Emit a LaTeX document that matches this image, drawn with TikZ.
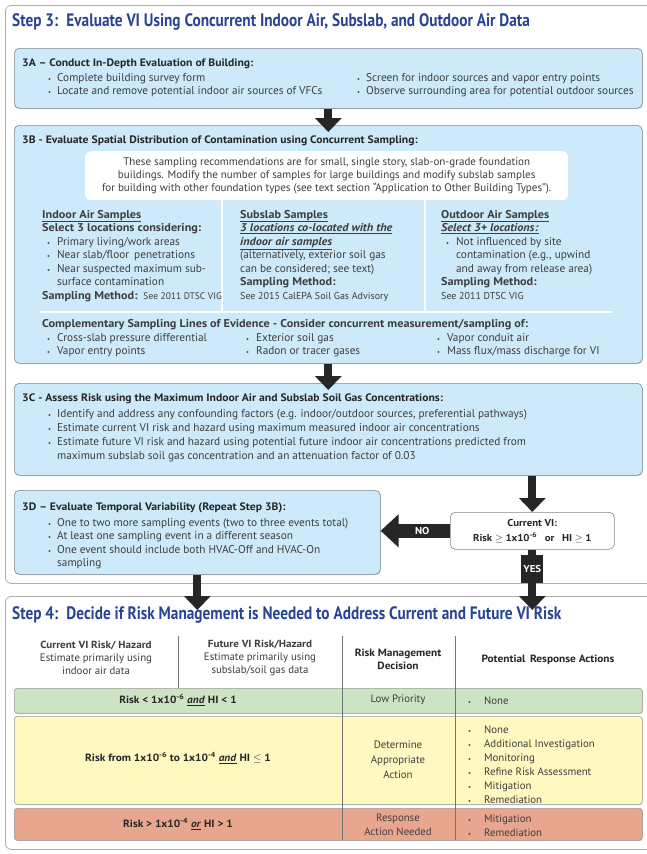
\documentclass[tikz,border=0pt]{standalone}
\usepackage{fontspec}
\setmainfont{PT Sans}[BoldFeatures={FakeStretch=1.08}, BoldItalicFeatures={FakeStretch=1.08}]
\newfontfamily\condfont{PT Sans}[FakeStretch=0.85]
\usetikzlibrary{arrows.meta,shadows}

\definecolor{titleblue}{RGB}{40,68,148}
\definecolor{boxblue}{RGB}{204,234,250}
\definecolor{boxline}{RGB}{125,135,145}
\definecolor{frameline}{RGB}{175,175,175}
\definecolor{txtgray}{RGB}{62,62,62}
\definecolor{rowgreen}{RGB}{205,228,196}
\definecolor{rowyellow}{RGB}{255,248,192}
\definecolor{rowred}{RGB}{232,166,142}

\newcommand{\bul}{{\fontsize{6.5}{6.5}\selectfont\textbullet}}
\newcommand{\uemph}[1]{\underline{\textbf{\textit{#1}}}}

\begin{document}
\begin{tikzpicture}[x=1pt,y=-1pt]
\tikzstyle{every node} = [inner sep=0pt, text=txtgray, font=\fontsize{11.3}{13.5}\selectfont]
\tikzstyle{frame} = [draw=frameline, line width=0.8pt, rounded corners=6pt, fill=white, anchor=north west]
\tikzstyle{panel} = [draw=boxline, fill=boxblue, line width=0.6pt, rounded corners=5pt, anchor=north west,
  drop shadow={shadow xshift=0.5pt, shadow yshift=-0.9pt, opacity=0.35}]
\tikzstyle{steptitle} = [anchor=base west, text=titleblue, font=\condfont\bfseries\fontsize{18}{20}\selectfont]
\tikzstyle{head} = [anchor=base west, text=black!85, font=\bfseries\fontsize{10.8}{13}\selectfont]
\tikzstyle{list} = [anchor=base west, align=left]
\tikzstyle{bigarrow} = [line width=8pt, draw=black!85, -{Triangle[width=26pt,length=14pt]}]
\tikzstyle{flag} = [text=white, font=\bfseries\fontsize{10}{11}\selectfont]
\tikzstyle{row} = [draw=black!40, line width=0.6pt, rounded corners=3pt, anchor=north west, minimum width=628pt,
  drop shadow={shadow xshift=0.5pt, shadow yshift=-0.9pt, opacity=0.3}]
\tikzstyle{divider} = [draw=black!55, line width=0.6pt]
\tikzstyle{cell} = [align=center, font=\fontsize{10.8}{14}\selectfont]
\tikzstyle{cellb} = [align=center, text=black!85, font=\bfseries\fontsize{10.5}{13}\selectfont]

\useasboundingbox (0,0) rectangle (646,854);

% cornice step 3
\node[frame, minimum width=660pt, minimum height=578pt] (s3) at (5,5) {};
\node[steptitle] (s3t) at (12,26) {Step 3:\, Evaluate VI Using Concurrent Indoor Air, Subslab, and Outdoor Air Data};

% 3A
\node[panel, minimum width=628pt, minimum height=60pt] (s3a) at (14,48) {};
\node[head] (s3ah) at (22,66) {3A -- Conduct In-Depth Evaluation of Building:};
\node[list] (s3al) at (48,81) {\begin{tabular}[t]{@{}l@{\hspace{6pt}}l@{}}
  \bul & Complete building survey form\\
  \bul & Locate and remove potential indoor air sources of VFCs
\end{tabular}};
\node[list] (s3ar) at (357,81) {\begin{tabular}[t]{@{}l@{\hspace{6pt}}l@{}}
  \bul & Screen for indoor sources and vapor entry points\\
  \bul & Observe surrounding area for potential outdoor sources
\end{tabular}};

% 3B
\node[panel, minimum width=628pt, minimum height=238pt] (s3b) at (14,125) {};
\node[head] (s3bh) at (22,143) {3B - Evaluate Spatial Distribution of Contamination using Concurrent Sampling:};
\node[fill=white, rounded corners=6pt, minimum width=483pt, minimum height=49pt, anchor=north west] (note) at (85,151) {};
\node[align=center, font=\fontsize{11}{13}\selectfont] (notetxt) at (note.center) {These sampling recommendations are for small, single story, slab-on-grade foundation\\
  buildings. Modify the number of samples for large buildings and modify subslab samples\\
  for building with other foundation types (see text section ``Application to Other Building Types'').};

\draw[white, line width=1.5pt] (222,200) -- (222,312);
\draw[white, line width=1.5pt] (425,200) -- (425,312);
\draw[white, line width=1.5pt] (40,312) -- (612,312);

\node[list] (indoor) at (42,218) {\begin{tabular}[t]{@{}l@{\hspace{7pt}}l@{}}
  \multicolumn{2}{@{}l@{}}{\underline{\textbf{Indoor Air Samples}}}\\
  \multicolumn{2}{@{}l@{}}{\textbf{Select 3 locations considering:}}\\
  \hspace{5pt}\bul & Primary living/work areas\\
  \hspace{5pt}\bul & Near slab/floor\, penetrations\\
  \hspace{5pt}\bul & Near suspected maximum sub-\\
   & surface contamination\\
  \multicolumn{2}{@{}l@{}}{\textbf{Sampling Method:}\, {\fontsize{9.5}{10}\selectfont See 2011 DTSC VIG}}
\end{tabular}};
\node[list] (subslab) at (240,218) {\begin{tabular}[t]{@{}l@{}}
  \underline{\textbf{Subslab Samples}}\\
  \uemph{3 locations co-located with the}\\
  \uemph{indoor air samples}\\
  (alternatively, exterior soil gas\\
  can be considered; see text)\\
  \textbf{Sampling Method:}\\
  {\fontsize{10}{10}\selectfont See 2015 CalEPA Soil Gas Advisory}
\end{tabular}};
\node[list] (outdoor) at (441,218) {\begin{tabular}[t]{@{}l@{\hspace{7pt}}l@{}}
  \multicolumn{2}{@{}l@{}}{\underline{\textbf{Outdoor Air Samples}}}\\
  \multicolumn{2}{@{}l@{}}{\uemph{Select 3+ locations:}}\\
  \hspace{5pt}\bul & Not influenced by site\\
   & contamination (e.g., upwind\\
   & and away from release area)\\
  \multicolumn{2}{@{}l@{}}{\textbf{Sampling Method:}}\\
  \multicolumn{2}{@{}l@{}}{\fontsize{10}{10}\selectfont See 2011 DTSC VIG}
\end{tabular}};

\node[list] (comph) at (42,327) {\textbf{Complementary Sampling Lines of Evidence - Consider concurrent measurement/sampling of:}};
\node[list] (comp1) at (47,341) {\begin{tabular}[t]{@{}l@{\hspace{7pt}}l@{}}
  \bul & Cross-slab pressure differential\\
  \bul & Vapor entry points
\end{tabular}};
\node[list] (comp2) at (246,341) {\begin{tabular}[t]{@{}l@{\hspace{7pt}}l@{}}
  \bul & Exterior soil gas\\
  \bul & Radon or tracer gases
\end{tabular}};
\node[list] (comp3) at (437,341) {\begin{tabular}[t]{@{}l@{\hspace{7pt}}l@{}}
  \bul & Vapor conduit air\\
  \bul & Mass flux/mass discharge for VI
\end{tabular}};

% 3C
\node[panel, minimum width=628pt, minimum height=92pt] (s3c) at (14,383) {};
\node[head] (s3ch) at (22,401) {3C - Assess Risk using the Maximum Indoor Air and Subslab Soil Gas Concentrations:};
\node[list, font=\fontsize{11.3}{14}\selectfont] (s3cl) at (48,417) {\begin{tabular}[t]{@{}l@{\hspace{6pt}}l@{}}
  \bul & Identify and address any confounding factors (e.g. indoor/outdoor sources, preferential pathways)\\
  \bul & Estimate current VI risk and hazard using maximum measured indoor air concentrations\\
  \bul & Estimate future VI risk and hazard using potential future indoor air concentrations predicted from\\
   & maximum subslab soil gas concentration and an attenuation factor of 0.03
\end{tabular}};

% 3D
\node[panel, minimum width=366pt, minimum height=84pt] (s3d) at (14,490) {};
\node[head] (s3dh) at (22,510) {3D -- Evaluate Temporal Variability (Repeat Step 3B):};
\node[list] (s3dl) at (48,526) {\begin{tabular}[t]{@{}l@{\hspace{6pt}}l@{}}
  \bul & One to two more sampling events (two to three events total)\\
  \bul & At least one sampling event in a different season\\
  \bul & One event should include both HVAC-Off and HVAC-On\\
   & sampling
\end{tabular}};

% decisione
\node[draw=boxline, fill=white, line width=0.6pt, rounded corners=5pt, minimum width=164pt, minimum height=37pt, anchor=north west] (vi) at (450,512) {};
\node[align=center, text=black!85, font=\bfseries\fontsize{10}{15}\selectfont] (vitxt) at (vi.center) {Current VI:\\Risk $\geq$ 1x10\textsuperscript{-6}\enspace\ or\enspace\ HI $\geq$ 1};

% cornice step 4
\node[frame, minimum width=660pt, minimum height=253pt] (s4) at (5,596) {};
\node[steptitle] (s4t) at (12,619) {Step 4:\, Decide if Risk Management is Needed to Address Current and Future VI Risk};

% frecce
\draw[bigarrow, shorten >=-7pt] (s3a.south) -- (s3b.north);
\draw[bigarrow, shorten >=-7pt] (s3b.south) -- (s3c.north);
\draw[bigarrow] (s3c.south -| vi.north) -- (vi.north);
\draw[line width=14pt, draw=black!85, -{Triangle[width=32pt,length=18pt]}] (vi.west) -- (vi.west -| s3d.east)
  node[flag, pos=0.4] (no) {NO};
\draw[bigarrow, shorten >=-14pt] (vi.south) -- (vi.south |- s4.north)
  node[flag, fill=black!85, inner sep=2pt, minimum height=28pt, pos=0.42] (yes) {YES};
\draw[bigarrow, shorten >=-14pt] (s3d.south) -- (s3d.south |- s4.north);

% tabella
\node[cell] (h1) at (96,658) {{\bfseries\fontsize{10.3}{13}\selectfont Current VI Risk/ Hazard}\\[-1pt]Estimate primarily using\\[-1pt]indoor air data};
\node[cell] (h2) at (260,658) {{\bfseries\fontsize{10.3}{13}\selectfont Future VI Risk/Hazard}\\[-1pt]Estimate primarily using\\[-1pt]subslab/soil gas data};
\node[cellb] (h3) at (398,659) {Risk Management\\Decision};
\node[cellb] (h4) at (548,660) {Potential\, Response Actions};

\node[row, fill=rowgreen, minimum height=25pt] (rg) at (14,688) {};
\node[row, fill=rowyellow, minimum height=88pt] (ry) at (14,716) {};
\node[row, fill=rowred, minimum height=32pt] (rr) at (14,808) {};

\draw[divider] (178,636) -- (178,688);
\draw[divider] (342,636) -- (342,840);
\draw[divider] (455,636) -- (455,840);

\node[cellb] (rg1) at (178,700) {Risk < 1x10\textsuperscript{-6} \uemph{and} HI < 1};
\node[cell] (rg2) at (398,700) {Low Priority};
\node[list, font=\fontsize{10.8}{14}\selectfont] (rg3) at (468,704) {\bul\hspace{13pt}None};

\node[cellb] (ry1) at (178,758) {Risk from 1x10\textsuperscript{-6} to 1x10\textsuperscript{-4} \uemph{and} HI $\leq$ 1};
\node[cell, font=\fontsize{10.8}{15}\selectfont] (ry2) at (398,760) {Determine\\Appropriate\\Action};
\node[list, font=\fontsize{10.8}{14}\selectfont] (ry3) at (468,733) {\begin{tabular}[t]{@{}l@{\hspace{13pt}}l@{}}
  \bul & None\\
  \bul & Additional Investigation\\
  \bul & Monitoring\\
  \bul & Refine Risk Assessment\\
  \bul & Mitigation\\
  \bul & Remediation
\end{tabular}};

\node[cellb] (rr1) at (178,824) {Risk > 1x10\textsuperscript{-4} \uemph{or} HI > 1};
\node[cell] (rr2) at (398,825) {Response\\Action Needed};
\node[list, font=\fontsize{10.8}{14}\selectfont] (rr3) at (468,822) {\begin{tabular}[t]{@{}l@{\hspace{13pt}}l@{}}
  \bul & Mitigation\\
  \bul & Remediation
\end{tabular}};

\end{tikzpicture}
\end{document}
